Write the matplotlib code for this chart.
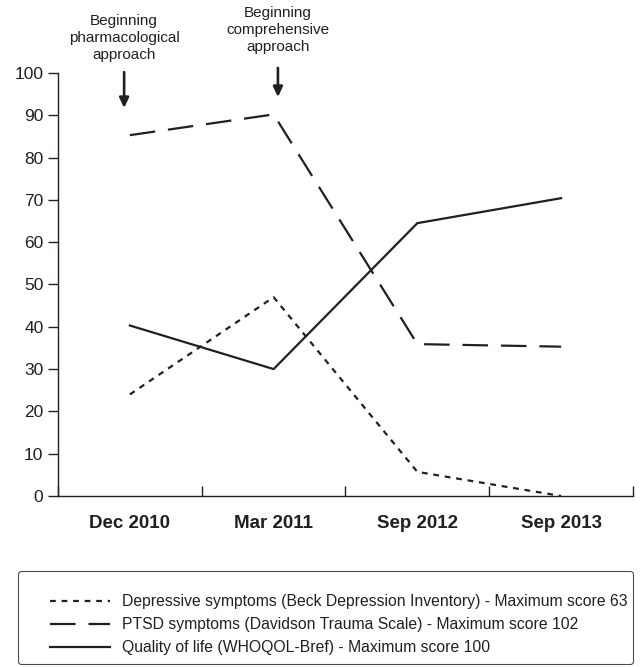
import matplotlib
matplotlib.use("Agg")
import matplotlib.pyplot as plt
from matplotlib.legend_handler import HandlerLine2D

plt.rcParams['font.family'] = ['Liberation Sans', 'DejaVu Sans']

dates = ["Dec 2010", "Mar 2011", "Sep 2012", "Sep 2013"]
depressive = [24, 47, 5.7, 0]
ptsd = [85.3, 90.2, 35.9, 35.3]
quality = [40.3, 30.0, 64.5, 70.4]

labels = ["Depressive symptoms (Beck Depression Inventory) - Maximum score 63",
          "PTSD symptoms (Davidson Trauma Scale) - Maximum score 102",
          "Quality of life (WHOQOL-Bref) - Maximum score 100"]

events = ["Beginning\npharmacological\napproach", "Beginning\ncomprehensive\napproach"]
event_x = [-0.04, 1.03]
arrow_from = [100.2, 101.2]
arrow_to = [91.7, 94.3]
text_y = [108.3, 110.2]

ink = "#231f20"
x = list(range(len(dates)))

fig = plt.figure(figsize=(6.43, 6.67), dpi=100)
ax = fig.add_axes([0.0902, 0.2564, 0.8942, 0.6342])

ax.plot(x, depressive, color=ink, lw=1.6, dashes=(2.6, 2.6), label=labels[0], clip_on=False)
ax.plot(x, ptsd, color=ink, lw=1.6, dashes=(11.5, 5.8), label=labels[1], clip_on=False)
ax.plot(x, quality, color=ink, lw=1.6, label=labels[2], clip_on=False)

ax.set_xlim(-0.5, 3.5)
ax.set_ylim(0, 100)
ax.set_yticks(range(0, 101, 10))
ax.set_xticks([-0.5, 0.5, 1.5, 2.5, 3.5])
ax.set_xticklabels([])
ax.set_xticks(x, minor=True)
ax.set_xticklabels(dates, minor=True, fontsize=13.5, fontweight="bold", color=ink)
ax.tick_params(axis="x", which="minor", length=0, pad=14)
ax.tick_params(axis="x", which="major", direction="in", length=7, width=1, color=ink)
ax.tick_params(axis="y", direction="out", length=7, width=1, color=ink, labelsize=12.5, labelcolor=ink)
for s in ["top", "right"]:
    ax.spines[s].set_visible(False)
for s in ["left", "bottom"]:
    ax.spines[s].set_color(ink)
    ax.spines[s].set_linewidth(1)

for ex, txt, y0, y1, ty in zip(event_x, events, arrow_from, arrow_to, text_y):
    ax.annotate("", xy=(ex, y1), xytext=(ex, y0),
                arrowprops=dict(arrowstyle="-|>,head_length=0.6,head_width=0.28", color=ink, lw=1.9,
                                shrinkA=0, shrinkB=0), annotation_clip=False)
    ax.text(ex, ty, txt, ha="center", va="center", fontsize=11, color=ink,
            linespacing=1.25, clip_on=False)

# blank title only adds room above the first entry
leg = fig.legend(loc="lower left", bbox_to_anchor=(0.028, 0.005, 0.957, 0.13), mode="expand",
                 borderaxespad=0, frameon=True, fancybox=True, edgecolor=ink, fontsize=11.3,
                 title=" ", title_fontsize=6,
                 handlelength=5.3, handletextpad=0.76, labelspacing=0.5, borderpad=0.55,
                 labelcolor=ink, handler_map={plt.Line2D: HandlerLine2D(xpad=1.5)})
leg.get_frame().set_linewidth(0.8)

fig.savefig("out.png", dpi=100)
